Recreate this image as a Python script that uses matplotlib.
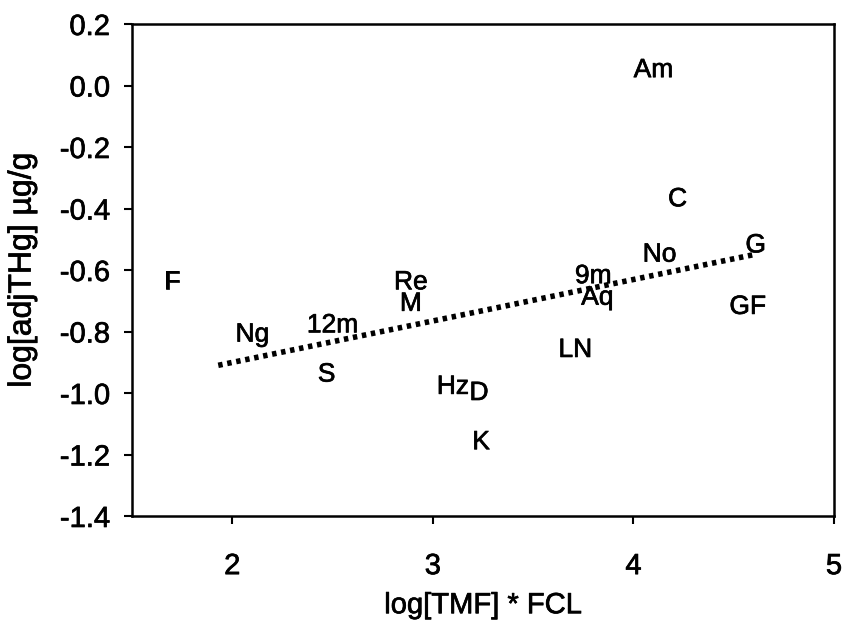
import numpy as np
import matplotlib.pyplot as plt
import matplotlib.patheffects as pe

plt.rcParams['font.family'] = ['Liberation Sans', 'DejaVu Sans']
plt.rcParams['axes.unicode_minus'] = False

# site / species codes and their values
labels = ['Am', 'C', 'No', 'G', '9m', 'Aq', 'GF', 'F', 'Re', 'M',
          '12m', 'Ng', 'S', 'LN', 'Hz', 'D', 'K']
tmf_fcl = [4.10, 4.22, 4.13, 4.61, 3.80, 3.82, 4.57, 1.70, 2.89, 2.89,
           2.50, 2.10, 2.47, 3.71, 3.10, 3.23, 3.24]
adj_thg = [0.05, -0.37, -0.55, -0.52, -0.62, -0.69, -0.72, -0.64, -0.64, -0.71,
           -0.78, -0.81, -0.94, -0.86, -0.98, -1.00, -1.16]

# regression line end points
fit_x = [1.93, 4.60]
fit_y = [-0.91, -0.55]

xticks = [2, 3, 4, 5]
yticks = [-1.4, -1.2, -1.0, -0.8, -0.6, -0.4, -0.2, 0.0, 0.2]

# scanned print look: slightly heavier glyphs
thick = [pe.withStroke(linewidth=0.5, foreground='black')]

fig = plt.figure(figsize=(8.46, 6.24), dpi=100)
ax = fig.add_axes([132 / 846, 1 - 516 / 624, (834 - 132) / 846, (516 - 24) / 624])

ax.plot(fit_x, fit_y, color='black', linewidth=4, linestyle=(0, (0.8, 0.85)),
        solid_capstyle='butt', dash_capstyle='butt')

for lab, x, y in zip(labels, tmf_fcl, adj_thg):
    ax.text(x, y, lab, ha='center', va='center', fontsize=19, path_effects=thick)

ax.set_xlim(1.5, 5)
ax.set_ylim(-1.4, 0.2)
ax.set_xticks(xticks)
ax.set_yticks(yticks)
ax.set_yticklabels(['%.1f' % v for v in yticks])

for s in ax.spines.values():
    s.set_linewidth(1.8)
ax.tick_params(axis='both', direction='out', length=6, width=1.5, labelsize=21)
ax.tick_params(axis='y', pad=10)
ax.tick_params(axis='x', pad=20)
for t in ax.get_xticklabels() + ax.get_yticklabels():
    t.set_path_effects(thick)

ax.set_xlabel('log[TMF] * FCL', fontsize=21, labelpad=8, path_effects=thick)
ax.set_ylabel('log[adjTHg] µg/g', fontsize=23, labelpad=16, path_effects=thick)

plt.savefig('out.png', dpi=100)
